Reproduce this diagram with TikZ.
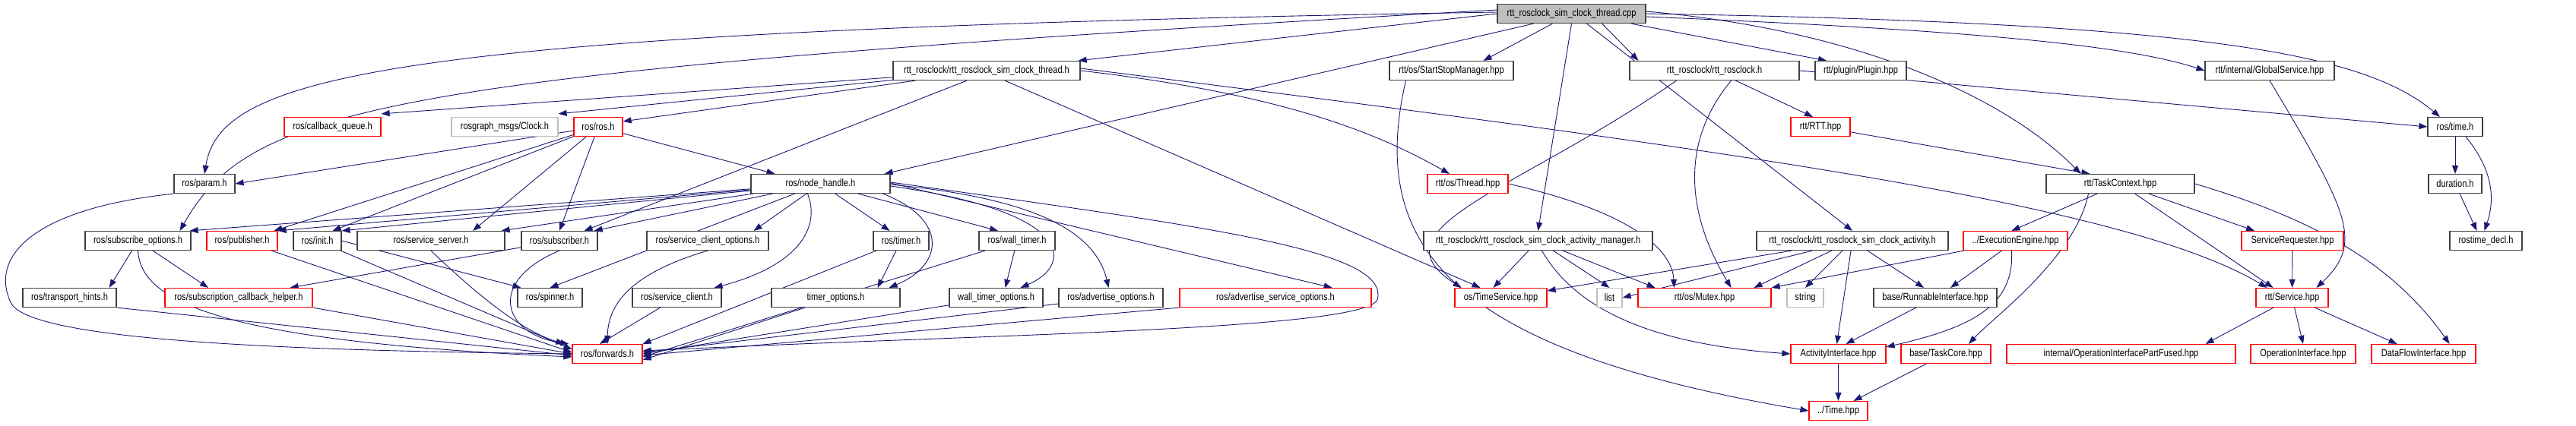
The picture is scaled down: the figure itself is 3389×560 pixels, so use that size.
\documentclass[tikz,border=0pt]{standalone}
\usepackage{fontspec}
\newfontfamily\dotfont[FakeStretch=0.82]{Liberation Sans}
\usetikzlibrary{arrows.meta,backgrounds}
\definecolor{edgeblue}{HTML}{191970}
\definecolor{linkgray}{HTML}{BFBFBF}
\definecolor{nodeborder}{HTML}{404040}
\tikzset{
  % For documented files.
  file/.style={
    draw=nodeborder,
    line width=1.2pt,
    fill=white,
    minimum height=25pt,
    inner sep=0pt,
    font=\dotfont\fontsize{13.5}{15}\selectfont},
%
  % For files whose graph is truncated.
  red file/.style={
    file,
    draw=red},
%
  % For files outside the documentation.
  gray file/.style={
    file,
    draw=linkgray},
%
  % For the file the graph is about.
  main file/.style={
    file,
    fill=linkgray},
%
  % For include dependencies.
  dep/.style={
    draw=edgeblue,
    line width=0.9pt,
    -{Triangle[length=11pt,width=8pt]}},
}

\begin{document}
\begin{tikzpicture}[x=1pt,y=-1pt]
  \useasboundingbox (0,0) rectangle (3389,560);

  \node[main file, minimum width=195pt] (cpp) at (2067.5,18) {rtt\_rosclock\_sim\_clock\_thread.cpp};

  \node[file, minimum width=246pt] (threadh) at (1298,93) {rtt\_rosclock/rtt\_rosclock\_sim\_clock\_thread.h};
  \node[file, minimum width=163pt] (startstop) at (1909.5,93) {rtt/os/StartStopManager.hpp};
  \node[file, minimum width=223pt] (rosclockh) at (2255.5,93) {rtt\_rosclock/rtt\_rosclock.h};
  \node[file, minimum width=120pt] (plugin) at (2448,93) {rtt/plugin/Plugin.hpp};
  \node[file, minimum width=170pt] (globalsrv) at (2986,93) {rtt/internal/GlobalService.hpp};

  \node[red file, minimum width=127pt] (cbqueue) at (437.5,167) {ros/callback\_queue.h};
  \node[gray file, minimum width=140pt] (clockmsg) at (664,167) {rosgraph\_msgs/Clock.h};
  \node[red file, minimum width=64pt] (rosh) at (787,167) {ros/ros.h};
  \node[red file, minimum width=78pt] (rtthpp) at (2395,167) {rtt/RTT.hpp};
  \node[file, minimum width=72pt] (timeh) at (3230,167) {ros/time.h};

  \node[file, minimum width=80pt] (param) at (269,242) {ros/param.h};
  \node[file, minimum width=183pt] (nodehandle) at (1079.5,242) {ros/node\_handle.h};
  \node[red file, minimum width=106pt] (threadhpp) at (1931,242) {rtt/os/Thread.hpp};
  \node[file, minimum width=195pt] (taskctx) at (2789.5,242) {rtt/TaskContext.hpp};
  \node[file, minimum width=70pt] (duration) at (3230,242) {duration.h};

  \node[file, minimum width=139pt] (subopts) at (181.5,317) {ros/subscribe\_options.h};
  \node[red file, minimum width=93pt] (publisher) at (318.5,317) {ros/publisher.h};
  \node[file, minimum width=63pt] (init) at (417.5,317) {ros/init.h};
  \node[file, minimum width=194pt] (srvserver) at (567,317) {ros/service\_server.h};
  \node[file, minimum width=100pt] (subscriber) at (736,317) {ros/subscriber.h};
  \node[file, minimum width=160pt] (clientopts) at (931,317) {ros/service\_client\_options.h};
  \node[file, minimum width=73pt] (timer) at (1185.5,317) {ros/timer.h};
  \node[file, minimum width=100pt] (walltimer) at (1338,317) {ros/wall\_timer.h};
  \node[file, minimum width=301pt] (actmanager) at (2023.5,317) {rtt\_rosclock/rtt\_rosclock\_sim\_clock\_activity\_manager.h};
  \node[file, minimum width=252pt] (activity) at (2437,317) {rtt\_rosclock/rtt\_rosclock\_sim\_clock\_activity.h};
  \node[red file, minimum width=137pt] (execengine) at (2651.5,317) {../ExecutionEngine.hpp};
  \node[red file, minimum width=134pt] (requester) at (3016,317) {ServiceRequester.hpp};
  \node[file, minimum width=95pt] (timedecl) at (3270.5,317) {rostime\_decl.h};

  \node[file, minimum width=123pt] (hints) at (91.5,392) {ros/transport\_hints.h};
  \node[red file, minimum width=194pt] (cbhelper) at (314,392) {ros/subscription\_callback\_helper.h};
  \node[file, minimum width=85pt] (spinner) at (723.5,392) {ros/spinner.h};
  \node[file, minimum width=117pt] (srvclient) at (890.5,392) {ros/service\_client.h};
  \node[file, minimum width=169pt] (timeropts) at (1099.5,392) {timer\_options.h};
  \node[file, minimum width=123pt] (walltimeropts) at (1310.5,392) {wall\_timer\_options.h};
  \node[file, minimum width=137pt] (advopts) at (1461.5,392) {ros/advertise\_options.h};
  \node[red file, minimum width=252pt] (advsrvopts) at (1678,392) {ros/advertise\_service\_options.h};
  \node[red file, minimum width=121pt] (timesrv) at (1974.5,392) {os/TimeService.hpp};
  \node[gray file, minimum width=33pt] (list) at (2117.5,392) {list};
  \node[red file, minimum width=175pt] (mutex) at (2242.5,392) {rtt/os/Mutex.hpp};
  \node[gray file, minimum width=48pt] (string) at (2375,392) {string};
  \node[file, minimum width=162pt] (runnable) at (2546,392) {base/RunnableInterface.hpp};
  \node[red file, minimum width=95pt] (service) at (3015.5,392) {rtt/Service.hpp};

  \node[red file, minimum width=92pt] (forwards) at (799,466) {ros/forwards.h};
  \node[red file, minimum width=125pt] (actiface) at (2418.5,466) {ActivityInterface.hpp};
  \node[red file, minimum width=118pt] (taskcore) at (2560,466) {base/TaskCore.hpp};
  \node[red file, minimum width=301pt] (opfused) at (2790.5,466) {internal/OperationInterfacePartFused.hpp};
  \node[red file, minimum width=138pt] (opiface) at (3030,466) {OperationInterface.hpp};
  \node[red file, minimum width=137pt] (dataflow) at (3188.5,466) {DataFlowInterface.hpp};

  \node[red file, minimum width=77pt] (timehpp) at (2418.5,541) {../Time.hpp};

  \begin{pgfonlayer}{background}
  % The source file.
  \draw[dep] (cpp.west) -- ([xshift=-3pt]threadh.north east);
  \draw[dep] ([yshift=2pt]cpp.west) .. controls (500,40) and (290,100) .. (param.north);
  \draw[dep] ([yshift=5pt]cpp.west) .. controls (500,95) and (330,140) .. ([xshift=-15pt]subopts.north east);
  \draw[dep] ([xshift=-50pt]cpp.south) -- ([xshift=-8pt]nodehandle.north east);
  \draw[dep] ([xshift=-25pt]cpp.south) -- ([xshift=-40pt]startstop.north east);
  \draw[dep] (cpp.south) -- (actmanager.north);
  \draw[dep] ([xshift=40pt]cpp.south) -- ([xshift=-100pt]rosclockh.north);
  \draw[dep] ([xshift=20pt]cpp.south) -- (activity.north);
  \draw[dep] ([xshift=-20pt]cpp.south east) -- ([xshift=-45pt]plugin.north);
  \draw[dep] ([yshift=-4pt]cpp.east) .. controls (2600,40) and (2800,60) .. (globalsrv.west);
  \draw[dep] (cpp.east) .. controls (2900,30) and (3110,70) .. ([xshift=-20pt]timeh.north);
  \draw[dep] ([yshift=3pt]cpp.east) .. controls (2450,40) and (2640,130) .. ([xshift=-52pt]taskctx.north);

  % The thread header.
  \draw[dep] (threadh) -- ([yshift=4pt]cbqueue.north east);
  \draw[dep] (threadh) -- ([yshift=4pt]clockmsg.north east);
  \draw[dep] (threadh) -- ([yshift=-6pt]rosh.north east);
  \draw[dep] ([xshift=-26pt]threadh.south) -- ([xshift=-18pt]subscriber.north east);
  \draw[dep] ([xshift=24pt]threadh.south) -- ([xshift=-27pt]timesrv.north);
  \draw[dep] (threadh.east) .. controls (1700,125) and (1820,180) .. ([xshift=-24pt]threadhpp.north);
  \draw[dep] ([yshift=3pt]threadh.east) .. controls (2300,200) and (2800,270) .. ([xshift=-33pt]service.north);

  % The ros headers.
  \draw[dep] (rosh) -- (param.east);
  \draw[dep] (rosh) -- ([xshift=-5pt]publisher.north east);
  \draw[dep] (rosh) -- ([xshift=-12pt]init.north east);
  \draw[dep] (rosh) -- ([xshift=55pt]srvserver.north);
  \draw[dep] (rosh) -- (subscriber.north);
  \draw[dep] (rosh) -- ([xshift=-60pt]nodehandle.north);

  \draw[dep] (param.south west) .. controls (40,275) and (-15,340) .. (15,400)
    .. controls (45,450) and (400,462) .. (forwards.west);

  \draw[dep] (nodehandle) -- ([xshift=-2pt]subopts.north east);
  \draw[dep] (nodehandle) -- (publisher.north east);
  \draw[dep] (nodehandle) -- (init.north east);
  \draw[dep] (nodehandle) -- ([xshift=-5pt]srvserver.north east);
  \draw[dep] (nodehandle) -- ([xshift=-5pt]subscriber.north east);
  \draw[dep] (nodehandle) -- (spinner.north);
  \draw[dep] (nodehandle) -- ([xshift=-20pt]clientopts.north east);
  \draw[dep] ([xshift=-17pt]nodehandle.south) .. controls (1080,300) and (1050,350) .. ([xshift=-10pt]srvclient.north east);
  \draw[dep] (nodehandle) -- ([xshift=-15pt]timer.north);
  \draw[dep] ([xshift=-10pt]nodehandle.south east) .. controls (1250,290) and (1240,350) .. ([xshift=-15pt]timeropts.north east);
  \draw[dep] (nodehandle) -- ([xshift=-25pt]walltimer.north);
  \draw[dep] ([yshift=-3pt]nodehandle.east) .. controls (1420,280) and (1410,350) .. ([xshift=-30pt]walltimeropts.north east);
  \draw[dep] ([yshift=-1pt]nodehandle.east) .. controls (1350,260) and (1440,300) .. ([xshift=-3pt]advopts.north);
  \draw[dep] ([yshift=1pt]nodehandle.east) -- ([xshift=-52pt]advsrvopts.north east);
  \draw[dep] ([yshift=2pt]nodehandle.east) .. controls (1600,300) and (1830,330) .. (1812,395)
    .. controls (1790,435) and (1300,440) .. ([yshift=4pt]forwards.east);

  \draw[dep] (subopts) -- ([xshift=-10pt]hints.north east);
  \draw[dep] (subopts) -- ([xshift=-40pt]cbhelper.north);
  \draw[dep] (subopts.south) .. controls (185,400) and (300,450) .. ([yshift=-4pt]forwards.west);
  \draw[dep] (hints.south east) -- ([yshift=-2pt]forwards.west);
  \draw[dep] (cbhelper.south east) -- (forwards.west);
  \draw[dep] (publisher) -- ([yshift=2pt]forwards.west);
  \draw[dep] (init) -- ([yshift=6pt]forwards.west);
  \draw[dep] (init.east) -- ([xshift=5pt]spinner.north west);
  \draw[dep] (srvserver.south) .. controls (650,410) and (700,440) .. ([xshift=-10pt]forwards.north west);
  \draw[dep] (subscriber.south) .. controls (640,370) and (660,440) .. ([xshift=-4pt]forwards.north west);
  \draw[dep] (subscriber) -- ([xshift=-30pt]cbhelper.north east);
  \draw[dep] (clientopts.south) .. controls (830,360) and (800,400) .. (forwards.north);
  \draw[dep] (srvclient) -- ([xshift=-10pt]forwards.north);
  \draw[dep] (timer) -- ([xshift=-30pt]timeropts.north east);
  \draw[dep] (timer) -- (forwards.north east);
  \draw[dep] (timeropts) -- ([yshift=-8pt]forwards.east);
  \draw[dep] (walltimer) -- ([xshift=-50pt]walltimeropts.north east);
  \draw[dep] (walltimer) -- ([yshift=-4pt]forwards.east);
  \draw[dep] (walltimeropts) -- (forwards.east);
  \draw[dep] (advopts) -- ([yshift=2pt]forwards.east);
  \draw[dep] (advsrvopts.south west) -- ([yshift=-2pt]forwards.east);

  % The rtt headers.
  \draw[dep] ([xshift=-60pt]startstop.south) .. controls (1800,320) and (1900,460) .. (timehpp.west);
  \draw[dep] (rosclockh) -- ([xshift=-10pt]rtthpp.north);
  \draw[dep] (rosclockh.east) -- (timeh.west);
  \draw[dep] ([xshift=-50pt]rosclockh.south) .. controls (2000,250) and (1800,300) .. ([xshift=-52pt]timesrv.north);
  \draw[dep] ([xshift=22pt]rosclockh.south) .. controls (2200,200) and (2230,300) .. ([xshift=35pt]mutex.north);
  \draw[dep] (threadhpp.east) .. controls (2150,280) and (2200,330) .. ([xshift=-40pt]mutex.north);
  \draw[dep] (rtthpp) -- ([xshift=-40pt]taskctx.north);
  \draw[dep] (globalsrv.south) .. controls (3090,280) and (3110,320) .. ([xshift=32pt]service.north);
  \draw[dep] (timeh) -- (duration);
  \draw[dep] ([xshift=14pt]timeh.south) .. controls (3285,230) and (3280,270) .. ([xshift=-2pt]timedecl.north);
  \draw[dep] (duration) -- ([xshift=-12pt]timedecl.north);

  \draw[dep] (taskctx) -- ([xshift=-5pt]execengine.north);
  \draw[dep] ([xshift=-42pt]taskctx.south) .. controls (2730,340) and (2620,420) .. ([xshift=30pt]taskcore.north);
  \draw[dep] (taskctx) -- ([xshift=-25pt]service.north);
  \draw[dep] (taskctx) -- ([xshift=-50pt]requester.north);
  \draw[dep] (taskctx.east) .. controls (3050,290) and (3150,350) .. ([xshift=-35pt]dataflow.north east);

  \draw[dep] (actmanager) -- ([xshift=-10pt]timesrv.north);
  \draw[dep] (actmanager) -- (list.north);
  \draw[dep] (actmanager) -- ([xshift=-65pt]mutex.north);
  \draw[dep] ([xshift=5pt]actmanager.south) .. controls (2080,420) and (2200,455) .. (actiface.west);

  \draw[dep] (activity) -- ([yshift=-4pt]timesrv.north east);
  \draw[dep] (activity) -- (list.east);
  \draw[dep] (activity) -- ([xshift=65pt]mutex.north);
  \draw[dep] (activity) -- (string.north);
  \draw[dep] (activity) -- ([xshift=-2pt]actiface.north);
  \draw[dep] (activity) -- ([xshift=-15pt]runnable.north);

  \draw[dep] (execengine) -- (mutex.north east);
  \draw[dep] (execengine) -- ([xshift=20pt]runnable.north);
  \draw[dep] ([xshift=-5pt]execengine.south) .. controls (2650,400) and (2600,430) .. ([yshift=-4pt]actiface.north east);
  \draw[dep] (runnable) -- ([xshift=10pt]actiface.north);
  \draw[dep] (actiface) -- (timehpp);
  \draw[dep] (taskcore) -- ([xshift=20pt]timehpp.north);

  \draw[dep] (requester) -- (service);
  \draw[dep] (service) -- ([xshift=-40pt]opfused.north east);
  \draw[dep] (service) -- (opiface.north);
  \draw[dep] (service) -- ([xshift=-35pt]dataflow.north);
  \end{pgfonlayer}
\end{tikzpicture}
\end{document}
